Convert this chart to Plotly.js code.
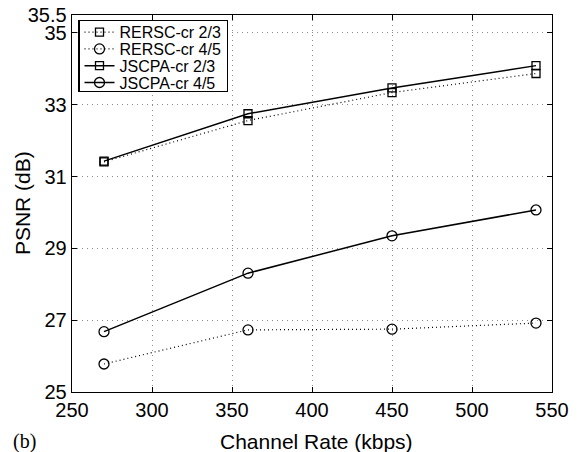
<!DOCTYPE html>
<html>
<head>
<meta charset="utf-8">
<script src="https://cdn.plot.ly/plotly-3.0.1.min.js"></script>
<style>html,body{margin:0;padding:0;background:#fff;}#chart{width:583px;height:452px;}</style>
</head>
<body>
<div id="chart"></div>
<script>
const rates = [270, 360, 450, 540];
const rersc23 = [31.41, 32.56, 33.34, 33.87];
const rersc45 = [25.78, 26.73, 26.75, 26.92];
const jscpa23 = [31.43, 32.75, 33.47, 34.09];
const jscpa45 = [26.68, 28.31, 29.35, 30.07];
const seriesNames = ['RERSC-cr 2/3', 'RERSC-cr 4/5', 'JSCPA-cr 2/3', 'JSCPA-cr 4/5'];
const xTicks = [250, 300, 350, 400, 450, 500, 550];
const yTicks = [25, 27, 29, 31, 33, 35, 35.5];
const yTickText = ['25', '27', '29', '31', '33', '35', '35.5'];
const xTitle = 'Channel Rate (kbps)';
const yTitle = 'PSNR (dB)';
const panelLabel = '(b)';

const FONT = 'Liberation Sans, Arial, Helvetica, sans-serif';

function tr(y, name, dash, width, symbol, size) {
  return {
    x: rates, y: y, name: name, type: 'scatter', mode: 'lines+markers',
    line: {color: '#000', dash: dash, width: width},
    marker: {symbol: symbol, size: size, color: '#000', line: {color: '#000', width: 1.3}}
  };
}

const data = [
  tr(rersc23, seriesNames[0], '1px,3px', 1.2, 'square-open', 8),
  tr(rersc45, seriesNames[1], '1px,3px', 1.2, 'circle-open', 10),
  tr(jscpa23, seriesNames[2], 'solid', 1.5, 'square-open', 8),
  tr(jscpa45, seriesNames[3], 'solid', 1.5, 'circle-open', 10)
];

const axisCommon = {
  showline: true, linecolor: '#000', linewidth: 1.3, mirror: 'ticks',
  ticks: 'inside', ticklen: 5, tickcolor: '#000', tickwidth: 1,
  showgrid: true, gridcolor: '#8c8c8c', griddash: '1px,4px', gridwidth: 1,
  zeroline: false, tickfont: {family: FONT, size: 20, color: '#000'}
};

const layout = {
  width: 583, height: 452,
  margin: {l: 72, r: 31, t: 15, b: 60},
  paper_bgcolor: '#fff', plot_bgcolor: '#fff',
  showlegend: true,
  legend: {
    x: 0.0125, y: 0.987, xanchor: 'left', yanchor: 'top',
    bordercolor: '#000', borderwidth: 1.5, bgcolor: '#fff',
    font: {family: FONT, size: 16, color: '#000'},
    tracegroupgap: 0, itemwidth: 30
  },
  xaxis: Object.assign({}, axisCommon, {
    range: [250, 550], tickmode: 'array', tickvals: xTicks
  }),
  yaxis: Object.assign({}, axisCommon, {
    range: [25, 35.5], tickmode: 'array', tickvals: yTicks, ticktext: yTickText
  }),
  annotations: [
    {text: xTitle, xref: 'paper', yref: 'paper', x: 0.51, y: -0.131, xanchor: 'center', yanchor: 'middle',
     showarrow: false, font: {family: FONT, size: 21, color: '#000'}},
    {text: yTitle, xref: 'paper', yref: 'paper', x: -0.103, y: 0.5, xanchor: 'center', yanchor: 'middle',
     textangle: -90, showarrow: false, font: {family: FONT, size: 21, color: '#000'}},
    {text: panelLabel, xref: 'paper', yref: 'paper', x: -0.128, y: -0.131,
     xanchor: 'left', yanchor: 'middle', showarrow: false,
     font: {family: 'Liberation Serif, Times New Roman, serif', size: 20, color: '#000'}}
  ]
};

Plotly.newPlot('chart', data, layout, {displayModeBar: false, staticPlot: true}).then(function (gd) {
  // tighten legend row spacing to match the compact reference legend
  const traces = gd.querySelectorAll('.legend .traces');
  const first = 12.2, step = 16.8;
  traces.forEach(function (t, i) {
    const m = /translate\(\s*([-\d.]+)[ ,]+([-\d.]+)\s*\)/.exec(t.getAttribute('transform') || '');
    const x = m ? m[1] : 0;
    t.setAttribute('transform', 'translate(' + x + ',' + (first + i * step) + ')');
  });
  const bg = gd.querySelector('.legend rect.bg');
  if (bg) bg.setAttribute('height', 71);
});
</script>
</body>
</html>
